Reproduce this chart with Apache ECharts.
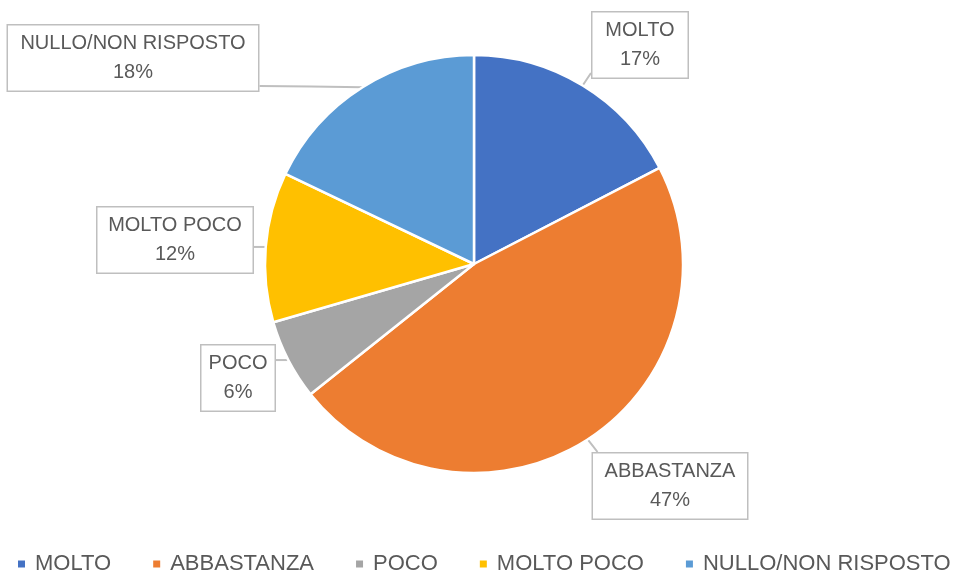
<!DOCTYPE html>
<html>
<head>
<meta charset="utf-8">
<script src="https://cdn.jsdelivr.net/npm/echarts@6/dist/echarts.min.js"></script>
<style>
html,body{margin:0;padding:0;background:#fff;}
#chart{width:957px;height:577px;}
</style>
</head>
<body>
<div id="chart"></div>
<script>
// Data (share of answers, %)
const categories = ['MOLTO', 'ABBASTANZA', 'POCO', 'MOLTO POCO', 'NULLO/NON RISPOSTO'];
const values = [17.4, 46.9, 6.2, 11.6, 17.9];
const colors = ['#4472C4', '#ED7D31', '#A5A5A5', '#FFC000', '#5B9BD5'];

// label box placement (centre x, centre y, box width) for each slice
const labelBoxes = [
  [640, 45, 95],
  [670, 486, 154],
  [238, 378, 73],
  [175, 240, 155],
  [133, 58, 250]
];

const chart = echarts.init(document.getElementById('chart'), null, {renderer: 'canvas'});
const fontFamily = '"Liberation Sans", Arial, sans-serif';

const data = categories.map((name, i) => ({
  name: name,
  value: values[i],
  itemStyle: {color: colors[i]},
  label: {width: labelBoxes[i][2] - 4}
}));

chart.setOption({
  animation: false,
  backgroundColor: '#ffffff',
  legend: {
    top: 548,
    left: 11,
    icon: 'rect',
    itemWidth: 9,
    itemHeight: 9,
    itemGap: 40,
    textStyle: {
      color: '#595959',
      fontSize: 22,
      fontFamily: fontFamily,
      padding: [0, 0, 0, 4]
    },
    data: categories
  },
  series: [{
    type: 'pie',
    center: [474, 264],
    radius: 209,
    startAngle: 90,
    clockwise: true,
    data: data,
    itemStyle: {borderColor: '#ffffff', borderWidth: 2.5},
    percentPrecision: 0,
    label: {
      show: true,
      formatter: '{b}\n{d}%',
      color: '#595959',
      fontSize: 20,
      fontFamily: fontFamily,
      lineHeight: 29,
      align: 'center',
      backgroundColor: '#ffffff',
      borderColor: '#bfbfbf',
      borderWidth: 1.5,
      padding: [4, 2, 3, 2]
    },
    labelLine: {
      show: true,
      length: 10,
      length2: 10,
      lineStyle: {color: '#bfbfbf', width: 2}
    },
    labelLayout: function (params) {
      const b = labelBoxes[params.dataIndex];
      const h = params.labelRect.height;
      const w = params.labelRect.width;
      const x0 = b[0] - w / 2, x1 = b[0] + w / 2;
      const y0 = b[1] - h / 2, y1 = b[1] + h / 2;
      const res = {
        x: b[0],
        y: b[1],
        align: 'center',
        verticalAlign: 'middle'
      };
      const pts = params.labelLinePoints;
      if (pts && pts.length) {
        const p0 = pts[0];
        const tx = Math.min(Math.max(p0[0], x0 + 6), x1 - 6);
        const ty = Math.min(Math.max(p0[1], y0 + 6), y1 - 6);
        let t;
        const dxl = Math.abs(p0[0] - x0), dxr = Math.abs(p0[0] - x1);
        const dyt = Math.abs(p0[1] - y0), dyb = Math.abs(p0[1] - y1);
        const inX = p0[0] > x0 && p0[0] < x1;
        const inY = p0[1] > y0 && p0[1] < y1;
        if (inY || (!inX && Math.min(dxl, dxr) > Math.min(dyt, dyb))) {
          t = [p0[0] < b[0] ? x0 : x1, ty];
        } else {
          t = [tx, p0[1] < b[1] ? y0 : y1];
        }
        res.labelLinePoints = [p0, [(p0[0] + t[0]) / 2, (p0[1] + t[1]) / 2], t];
      }
      return res;
    },
    emphasis: {disabled: true}
  }]
});
</script>
</body>
</html>
